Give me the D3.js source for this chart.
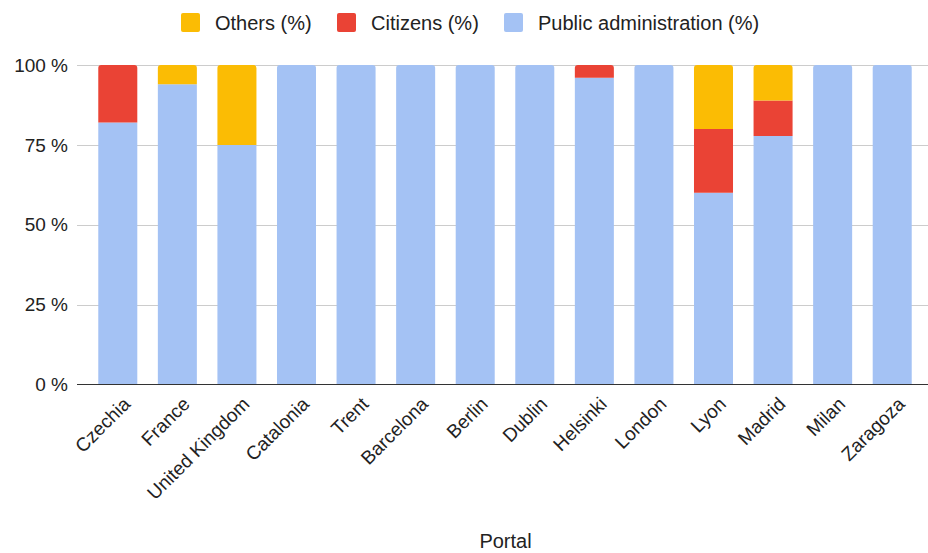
<!DOCTYPE html>
<html><head><meta charset="utf-8">
<script src="https://cdn.jsdelivr.net/npm/d3@7"></script>
<style>body{margin:0;background:#fff}svg{display:block;font-family:"Liberation Sans",Arial,sans-serif}</style>
</head><body><svg id="c" width="928" height="553"></svg>
<script>
const portals = ["Czechia","France","United Kingdom","Catalonia","Trent","Barcelona","Berlin","Dublin","Helsinki","London","Lyon","Madrid","Milan","Zaragoza"];
const publicAdmin = [82,94,75,100,100,100,100,100,96,100,60,77.8,100,100];
const citizens =    [18,0,0,0,0,0,0,0,4,0,20,11.1,0,0];
const others =      [0,6,25,0,0,0,0,0,0,0,20,11.1,0,0];
const seriesNames = ["Public administration (%)","Citizens (%)","Others (%)"];
const yTicks = [0,25,50,75,100];
const colors = {"Public administration (%)":"#a4c2f4","Citizens (%)":"#ea4335","Others (%)":"#fbbc04"};

const svg = d3.select("#c");
const W = 928, H = 553;
const gridL = 77, gridR = 928;
const x = d3.scaleBand().domain(portals).range([88, 922]).paddingInner(0.345).paddingOuter(0.1725);
const y = d3.scaleLinear().domain([0,100]).range([384.5, 65]);

const rows = portals.map((p,i)=>({portal:p, "Public administration (%)":publicAdmin[i], "Citizens (%)":citizens[i], "Others (%)":others[i]}));
const stack = d3.stack().keys(seriesNames)(rows);

// gridlines
svg.append("g").selectAll("line").data(yTicks.filter(d=>d>0)).join("line")
  .attr("x1", gridL).attr("x2", gridR).attr("y1", d=>Math.round(y(d))+0.5).attr("y2", d=>Math.round(y(d))+0.5)
  .attr("stroke","#cccccc").attr("stroke-width",1);

// y labels
svg.append("g").selectAll("text").data(yTicks).join("text")
  .attr("x", 68).attr("y", d=>y(d)).attr("dy","0.35em").attr("text-anchor","end")
  .attr("font-size",19).attr("fill","#222").text(d=>d+" %");

// bars
const topKey = rows.map(r=>{let k=null; seriesNames.forEach(s=>{if(r[s]>0)k=s;}); return k;});
const r0 = 3;
function barPath(x0,w,yTop,yBot,round){
  if(!round) return `M${x0},${yBot}V${yTop}H${x0+w}V${yBot}Z`;
  return `M${x0},${yBot}V${yTop+r0}Q${x0},${yTop} ${x0+r0},${yTop}H${x0+w-r0}Q${x0+w},${yTop} ${x0+w},${yTop+r0}V${yBot}Z`;
}
stack.forEach(layer=>{
  svg.append("g").attr("fill", colors[layer.key]).selectAll("path").data(layer).join("path")
    .filter(d=>d[1]-d[0]>0)
    .attr("d",(d)=>{
      const idx = portals.indexOf(d.data.portal);
      return barPath(x(d.data.portal), x.bandwidth(), y(d[1]), y(d[0]), topKey[idx]===layer.key);
    });
});

// baseline
svg.append("line").attr("x1",gridL).attr("x2",gridR).attr("y1",y(0)).attr("y2",y(0))
  .attr("stroke","#333").attr("stroke-width",1);

// x labels
svg.append("g").selectAll("text").data(portals).join("text")
  .attr("transform", d=>`translate(${x(d)+x.bandwidth()/2+9},${y(0)+16}) rotate(-45)`)
  .attr("text-anchor","end").attr("dy","0.35em")
  .attr("font-size",19).attr("fill","#222").text(d=>d);

// axis title
svg.append("text").attr("x", 505.5).attr("y", 548).attr("text-anchor","middle")
  .attr("font-size",20).attr("fill","#222").text("Portal");

// legend
const legendItems = [
  {name:"Others (%)", x:181},
  {name:"Citizens (%)", x:337},
  {name:"Public administration (%)", x:504}
];
const lg = svg.append("g");
legendItems.forEach(it=>{
  lg.append("rect").attr("x",it.x).attr("y",13).attr("width",19).attr("height",19).attr("rx",2).attr("fill",colors[it.name]);
  lg.append("text").attr("x",it.x+34).attr("y",22.5).attr("dy","0.35em").attr("font-size",20).attr("fill","#222").text(it.name);
});
</script></body></html>
